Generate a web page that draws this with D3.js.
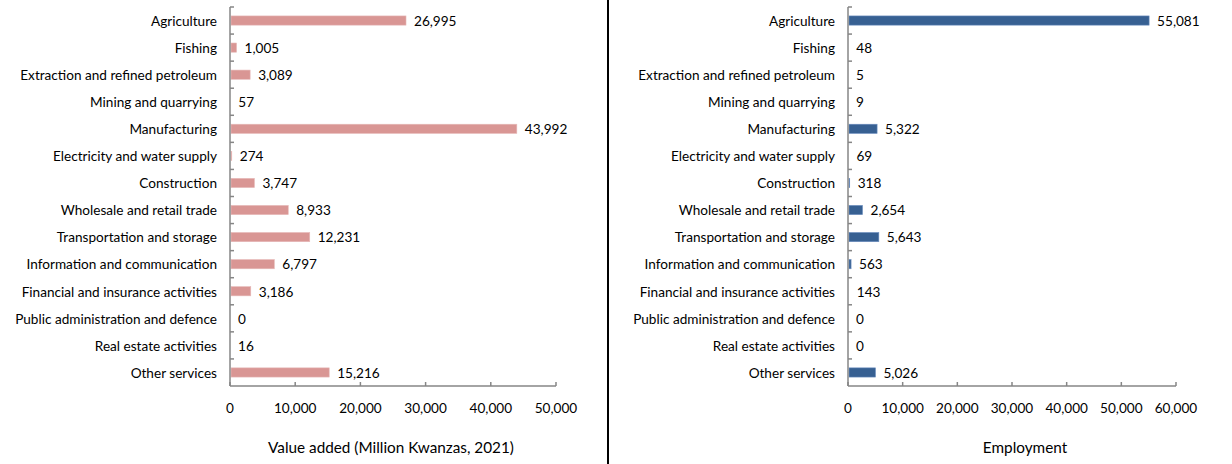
<!DOCTYPE html>
<html><head><meta charset="utf-8">
<script src="https://cdn.jsdelivr.net/npm/d3@7"></script>
<style>body{margin:0;background:#fff}svg{display:block}text{font-family:Lato,"Open Sans",sans-serif;fill:#000}</style>
</head><body><svg id="c" width="1232" height="464"></svg>
<script>
const categories = ["Agriculture","Fishing","Extraction and refined petroleum","Mining and quarrying","Manufacturing","Electricity and water supply","Construction","Wholesale and retail trade","Transportation and storage","Information and communication","Financial and insurance activities","Public administration and defence","Real estate activities","Other services"];
const valueAdded = [26995,1005,3089,57,43992,274,3747,8933,12231,6797,3186,0,16,15216];
const employment = [55081,48,5,9,5322,69,318,2654,5643,563,143,0,0,5026];
const ticksLeft = [0,10000,20000,30000,40000,50000];
const ticksRight = [0,10000,20000,30000,40000,50000,60000];
const titles = ["Value added (Million Kwanzas, 2021)","Employment"];

const svg = d3.select("#c");
const fmt = d3.format(",");
const plotTop = 7, plotBottom = 386;

function panel(vals, ticks, x0, x1, color, stroke, title, titleX) {
  const x = d3.scaleLinear().domain([0, ticks[ticks.length-1]]).range([x0, x1]);
  const y = d3.scaleBand().domain(categories).range([plotTop, plotBottom]).paddingInner(0.66).paddingOuter(0.33);
  const g = svg.append("g");
  g.selectAll("rect.b").data(vals).join("rect")
    .attr("x", x(0)+1).attr("y", (d,i)=>y(categories[i]))
    .attr("width", d=>Math.max(0, x(d)-x(0)-1)).attr("height", y.bandwidth())
    .attr("fill", color).attr("stroke", stroke).attr("stroke-width", 0.6);
  g.selectAll("text.v").data(vals).join("text")
    .attr("x", d=>x(d)+8).attr("y", (d,i)=>y(categories[i])+y.bandwidth()/2+0.5)
    .attr("dy","0.35em").attr("font-size",13.6).text(d=>fmt(d));
  g.selectAll("text.c").data(categories).join("text")
    .attr("x", x0-13).attr("y", d=>y(d)+y.bandwidth()/2+0.5).attr("dy","0.35em")
    .attr("text-anchor","end").attr("font-size",13.6).text(d=>d);
  const step = (plotBottom-plotTop)/categories.length;
  g.append("line").attr("x1",x0).attr("x2",x0).attr("y1",plotTop).attr("y2",plotBottom).attr("stroke","#868686").attr("stroke-width",1.5);
  g.selectAll("line.yt").data(d3.range(categories.length)).join("line")
    .attr("x1",x0).attr("x2",x0+4).attr("y1",i=>plotTop+i*step).attr("y2",i=>plotTop+i*step)
    .attr("stroke","#868686").attr("stroke-width",1.5);
  g.append("line").attr("x1",x0).attr("x2",x1).attr("y1",plotBottom).attr("y2",plotBottom).attr("stroke","#868686").attr("stroke-width",1.5);
  g.selectAll("line.xt").data(ticks).join("line")
    .attr("x1",d=>x(d)).attr("x2",d=>x(d)).attr("y1",plotBottom).attr("y2",plotBottom-4)
    .attr("stroke","#868686").attr("stroke-width",1.5);
  g.selectAll("text.xt").data(ticks).join("text")
    .attr("x",d=>x(d)).attr("y",413).attr("text-anchor","middle").attr("font-size",13.6).text(d=>fmt(d));
  g.append("text").attr("x",titleX).attr("y",452.5).attr("text-anchor","middle").attr("font-size",15.3).text(title);
}
panel(valueAdded, ticksLeft, 230, 556, "#D99694", "#E6B9B8", titles[0], 391);
panel(employment, ticksRight, 848, 1176, "#376092", "#6C8EBF", titles[1], 1025);
svg.append("line").attr("x1",608).attr("x2",608).attr("y1",0).attr("y2",464).attr("stroke","#000").attr("stroke-width",2);
</script></body></html>
